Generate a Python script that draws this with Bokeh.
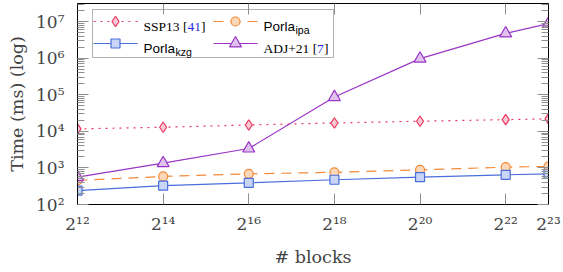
from bokeh.plotting import figure
from bokeh.models import (Range1d, FixedTicker, LogAxis, Label, BoxAnnotation)
from bokeh.embed import file_html
from bokeh.resources import INLINE

# ---- data ----
blocks = [2**12, 2**14, 2**16, 2**18, 2**20, 2**22, 2**23]
ssp13 = [11700, 13000, 15000, 17000, 19000, 21000, 22000]
porla_ipa = [455, 585, 690, 760, 890, 1050, 1100]
porla_kzg = [240, 330, 390, 475, 560, 650, 690]
adj21 = [560, 1350, 3400, 87000, 980000, 4800000, 8900000]

x_tick_exps = [12, 14, 16, 18, 20, 22, 23]
y_tick_exps = [2, 3, 4, 5, 6, 7]

SUP = str.maketrans("0123456789", "⁰¹²³⁴⁵⁶⁷⁸⁹")

# ---- styles ----
RED, RED_F = "#e8385f", "#fbc9d6"
ORA, ORA_F = "#f28a3a", "#fdd8b8"
BLU, BLU_F = "#4a6edb", "#c9d5f5"
PUR, PUR_F = "#9a35c6", "#e0c2ef"

W, H = 563, 272
FL, FR, FT, FB = 77, 548, 3, 204
XMIN, XMAX = 2**12, 2**23
YLOG0, YLOG1 = 2.0, 7.5

p = figure(width=W, height=H, x_axis_type="log", y_axis_type="log",
           x_range=Range1d(XMIN, XMAX), y_range=Range1d(10**YLOG0, 10**YLOG1),
           output_backend="svg", toolbar_location=None,
           min_border_left=FL, min_border_right=W - FR,
           min_border_top=FT, min_border_bottom=H - FB)
p.grid.visible = False
p.outline_line_color = "black"
p.outline_line_width = 1

xticker = FixedTicker(ticks=[2**e for e in x_tick_exps])
yticker = FixedTicker(ticks=[10**e for e in y_tick_exps],
                      minor_ticks=[m * 10**e for e in range(2, 8) for m in range(2, 10)
                                   if m * 10**e <= 10**YLOG1])

TICK_C = "#8f8f8f"
TFONT = "DejaVu Serif"

def style_axis(ax, show_labels):
    ax.axis_line_color = "black"
    ax.major_tick_in = 11
    ax.major_tick_out = 0
    ax.minor_tick_in = 7
    ax.minor_tick_out = 0
    ax.major_tick_line_color = TICK_C
    ax.minor_tick_line_color = TICK_C
    if not show_labels:
        ax.major_label_text_color = None
        ax.major_label_text_font_size = "1px"
        ax.major_label_standoff = 0

xa = p.xaxis[0]
xa.ticker = xticker
xa.major_label_overrides = {2**e: "2" + str(e).translate(SUP) for e in x_tick_exps}
xa.major_label_text_font = TFONT
xa.major_label_text_font_size = "17px"
xa.major_label_standoff = 9
xa.axis_label = "# blocks"
xa.axis_label_text_font = "DejaVu Serif"
xa.axis_label_text_font_size = "17.5px"
xa.axis_label_text_font_style = "normal"
xa.axis_label_standoff = 10
style_axis(xa, True)
xa.minor_tick_line_color = None

ya = p.yaxis[0]
ya.ticker = yticker
ya.major_label_overrides = {10**e: "10" + str(e).translate(SUP) for e in y_tick_exps}
ya.major_label_text_font = TFONT
ya.major_label_text_font_size = "17px"
ya.major_label_standoff = 13
ya.axis_label = "Time (ms) (log)"
ya.axis_label_text_font = "DejaVu Serif"
ya.axis_label_text_font_size = "17.5px"
ya.axis_label_text_font_style = "normal"
ya.axis_label_standoff = 6
style_axis(ya, True)

top = LogAxis(ticker=xticker)
style_axis(top, False)
top.minor_tick_line_color = None
p.add_layout(top, "above")
right = LogAxis(ticker=yticker)
style_axis(right, False)
p.add_layout(right, "right")

# ---- series ----
p.line(blocks, ssp13, line_color=RED, line_width=1.2, line_dash="2 5")
p.scatter(blocks, ssp13, marker="diamond", size=10.5, line_color=RED, fill_color=RED_F, line_width=1.2)
p.line(blocks, porla_ipa, line_color=ORA, line_width=1.2, line_dash="10 7")
p.scatter(blocks, porla_ipa, marker="circle", size=9, line_color=ORA, fill_color=ORA_F, line_width=1.2)
p.line(blocks, porla_kzg, line_color=BLU, line_width=1.2)
p.scatter(blocks, porla_kzg, marker="square", size=9, line_color=BLU, fill_color=BLU_F, line_width=1.2)
p.line(blocks, adj21, line_color=PUR, line_width=1.2)
p.scatter(blocks, adj21, marker="triangle", size=12, line_color=PUR, fill_color=PUR_F, line_width=1.2)

# ---- legend (built by hand: mixed fonts, subscripts, coloured citations) ----
def xd(px):
    return 2 ** (12 + (px - FL) / (FR - FL) * 11)

def yd(py):
    return 10 ** (YLOG0 + (FB - py) / (FB - FT) * (YLOG1 - YLOG0))

p.add_layout(BoxAnnotation(left=xd(92), right=xd(333), top=yd(9), bottom=yd(57),
                           fill_color="white", fill_alpha=1, line_color="black",
                           line_width=1, level="underlay"))

def key(cx, cy, color, fill, marker, size, dash):
    kw = {} if dash is None else {"line_dash": dash}
    p.line([xd(cx - 22), xd(cx + 22)], [yd(cy), yd(cy)], line_color=color, line_width=1.2, **kw)
    p.scatter([xd(cx)], [yd(cy)], marker=marker, size=size, line_color=color,
              fill_color=fill, line_width=1.2)

def txt(px, py, s, font, size, color="black"):
    p.add_layout(Label(x=xd(px), y=yd(py), text=s, text_font=font, text_font_size=size,
                       text_color=color, text_baseline="alphabetic", text_align="left"))

R1, R2 = 21, 43
key(115, R1, RED, RED_F, "diamond", 10.5, "2 5")
key(235, R1, ORA, ORA_F, "circle", 9, "10 7")
key(115, R2, BLU, BLU_F, "square", 9, None)
key(235, R2, PUR, PUR_F, "triangle", 12, None)

SER = "Liberation Serif"
SAN = "Liberation Sans"
BLUE_REF = "#2a2ae0"
txt(143, R1 + 5, "SSP13 [", SER, "13.5px")
txt(187, R1 + 5, "41", SER, "13.5px", BLUE_REF)
txt(200.5, R1 + 5, "]", SER, "13.5px")
txt(263, R1 + 5, "Porla", SAN, "13.5px")
txt(295, R1 + 8, "ipa", SAN, "10.5px")
txt(143, R2 + 5, "Porla", SAN, "13.5px")
txt(175, R2 + 8, "kzg", SAN, "10.5px")
txt(263, R2 + 5, "ADJ+21 [", SER, "13.5px")
txt(316.5, R2 + 5, "7", SER, "13.5px", BLUE_REF)
txt(323.5, R2 + 5, "]", SER, "13.5px")

html = file_html(p, INLINE)
html = html.replace("<head>", "<head><style>html,body{margin:0;padding:0}</style>", 1)
open("out.html", "w").write(html)
